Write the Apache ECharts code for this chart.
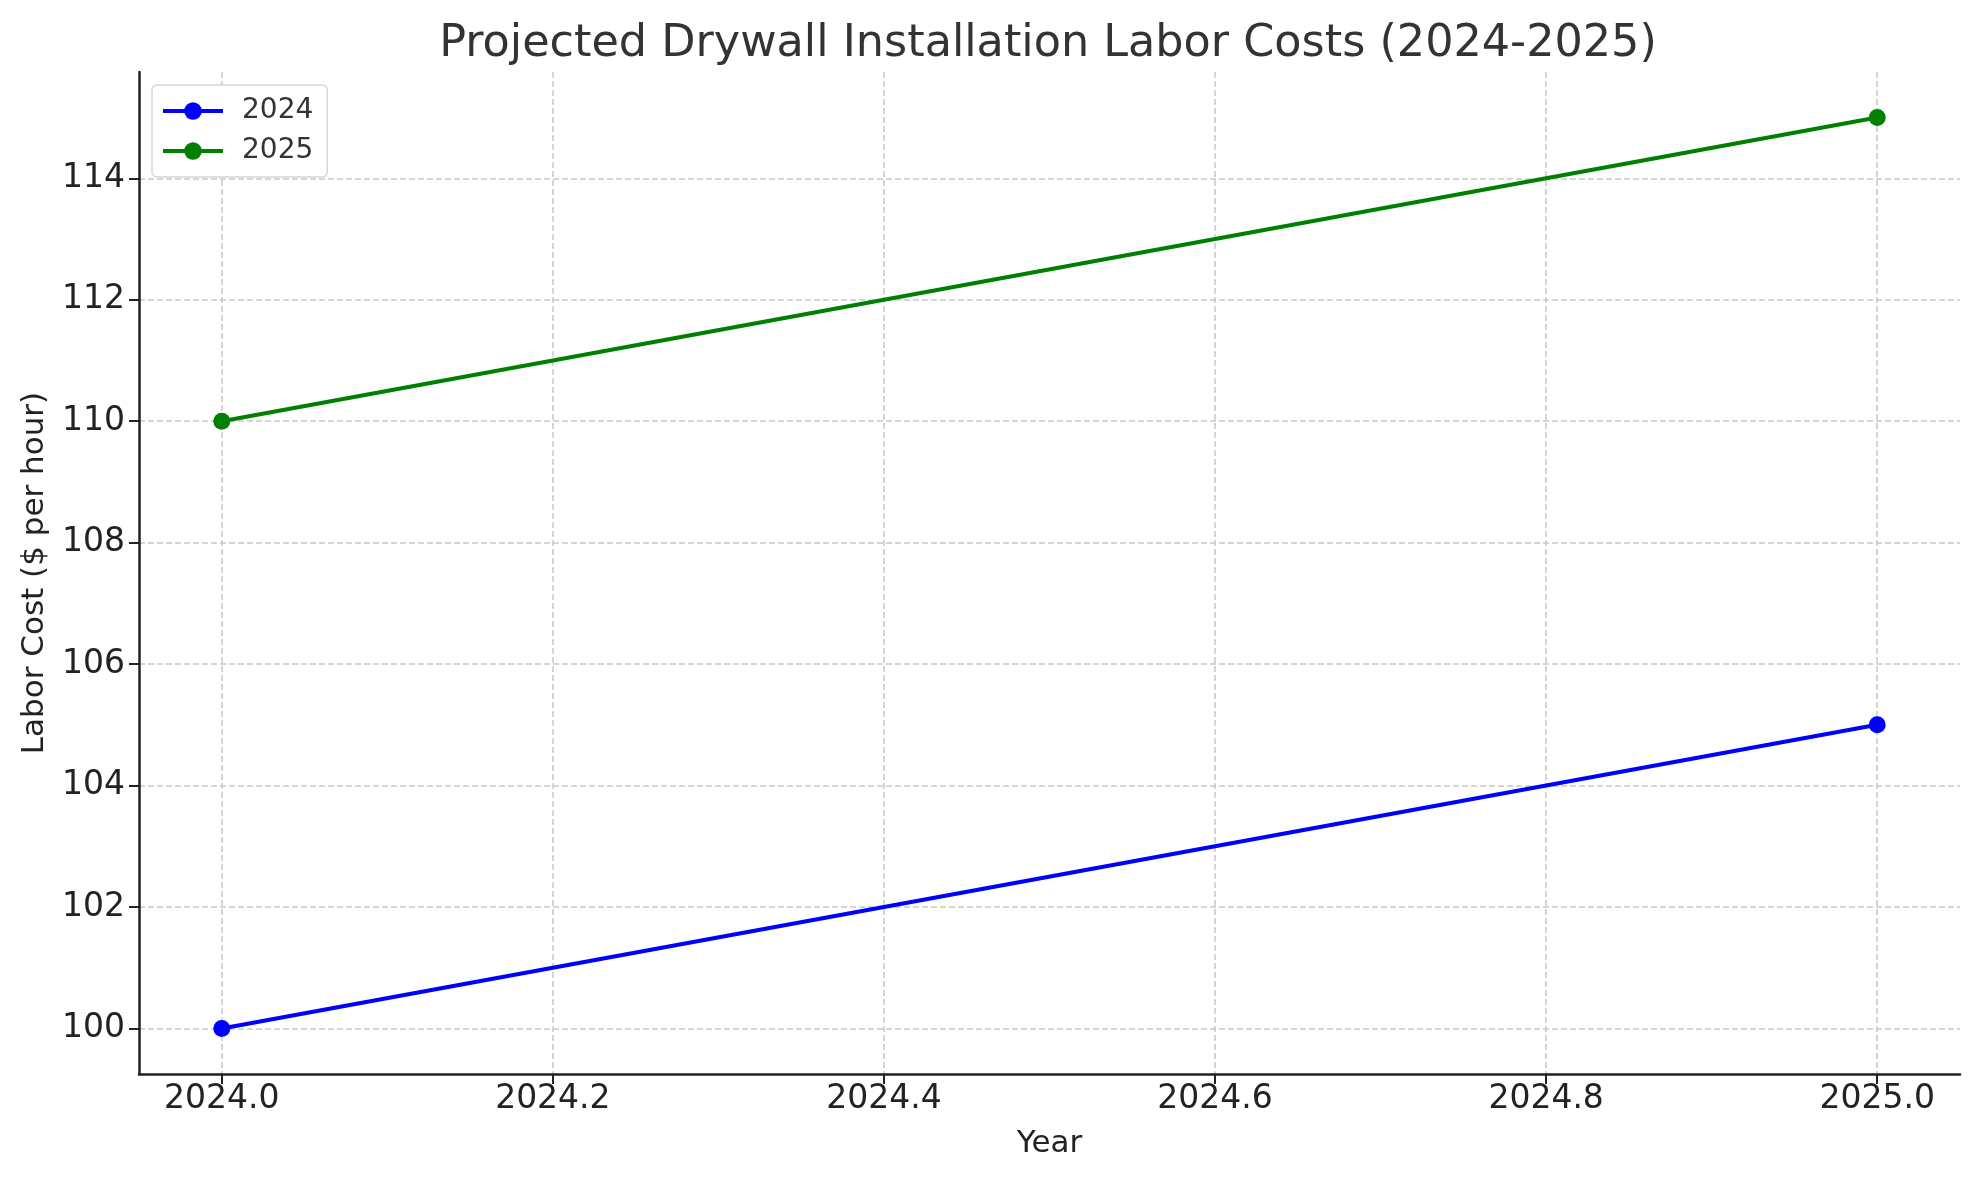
<!DOCTYPE html>
<html>
<head>
<meta charset="utf-8">
<script src="https://cdn.jsdelivr.net/npm/echarts@6/dist/echarts.min.js"></script>
<style>
html,body{margin:0;padding:0;background:#fff;}
#chart{width:1979px;height:1180px;}
</style>
</head>
<body>
<div id="chart"></div>
<script>
const years = [2024, 2025];
const cost2024 = [100, 105];
const cost2025 = [110, 115];
const xTicks = [2024.0, 2024.2, 2024.4, 2024.6, 2024.8, 2025.0];
const yTicks = [100, 102, 104, 106, 108, 110, 112, 114];
const seriesNames = ['2024', '2025'];
const seriesColors = ['#0000ff', '#008000'];

const FONT = 'DejaVu Sans';
const chart = echarts.init(document.getElementById('chart'), null, {renderer: 'canvas'});

function pairs(ys) { return years.map((x, i) => [x, ys[i]]); }

const gridLine = {show: true, lineStyle: {color: '#c8c8c8', width: 1.5, type: [6, 3]}};

chart.setOption({
  animation: false,
  backgroundColor: '#ffffff',
  title: {
    text: 'Projected Drywall Installation Labor Costs (2024-2025)',
    left: 1043, textAlign: 'center', top: 17,
    textStyle: {fontFamily: FONT, fontSize: 44.5, fontWeight: 'normal', color: '#333333'}
  },
  legend: {
    left: 152, top: 85, orient: 'vertical',
    data: seriesNames,
    itemWidth: 60, itemHeight: 22, itemGap: 12,
    padding: [12, 14, 12, 9],
    borderColor: '#d6d6d6', borderWidth: 1.5, borderRadius: 5,
    backgroundColor: '#ffffff',
    lineStyle: {width: 4},
    textStyle: {fontFamily: FONT, fontSize: 28, color: '#333333', padding: [0, 0, 0, 14]}
  },
  grid: {left: 139, right: 19, top: 72, bottom: 106, containLabel: false, outerBoundsMode: 'none'},
  xAxis: {
    type: 'value', min: 2023.95, max: 2025.05,
    name: 'Year', nameLocation: 'middle', nameGap: 54,
    nameTextStyle: {fontFamily: FONT, fontSize: 31, color: '#222222'},
    axisLine: {show: true, onZero: false, lineStyle: {color: '#222222', width: 2.5}},
    axisTick: {show: true, length: 10, customValues: xTicks, lineStyle: {color: '#222222', width: 2}},
    axisLabel: {customValues: xTicks, fontFamily: FONT, fontSize: 33, color: '#222222', margin: 9,
      formatter: v => Number(v).toFixed(1)},
    splitLine: gridLine
  },
  yAxis: {
    type: 'value', min: 99.25, max: 115.75,
    name: 'Labor Cost ($ per hour)', nameLocation: 'middle', nameGap: 89,
    nameTextStyle: {fontFamily: FONT, fontSize: 31, color: '#222222'},
    axisLine: {show: true, onZero: false, lineStyle: {color: '#222222', width: 2.5}},
    axisTick: {show: true, length: 10, customValues: yTicks, lineStyle: {color: '#222222', width: 2}},
    axisLabel: {customValues: yTicks, fontFamily: FONT, fontSize: 33, color: '#222222', margin: 14,
      formatter: v => String(Math.round(v))},
    splitLine: gridLine
  },
  series: [cost2024, cost2025].map((ys, i) => ({
    name: seriesNames[i], type: 'line', data: pairs(ys),
    symbol: 'circle', symbolSize: 17, showSymbol: true,
    lineStyle: {color: seriesColors[i], width: 4},
    itemStyle: {color: seriesColors[i]},
    z: 3
  }))
});
</script>
</body>
</html>
